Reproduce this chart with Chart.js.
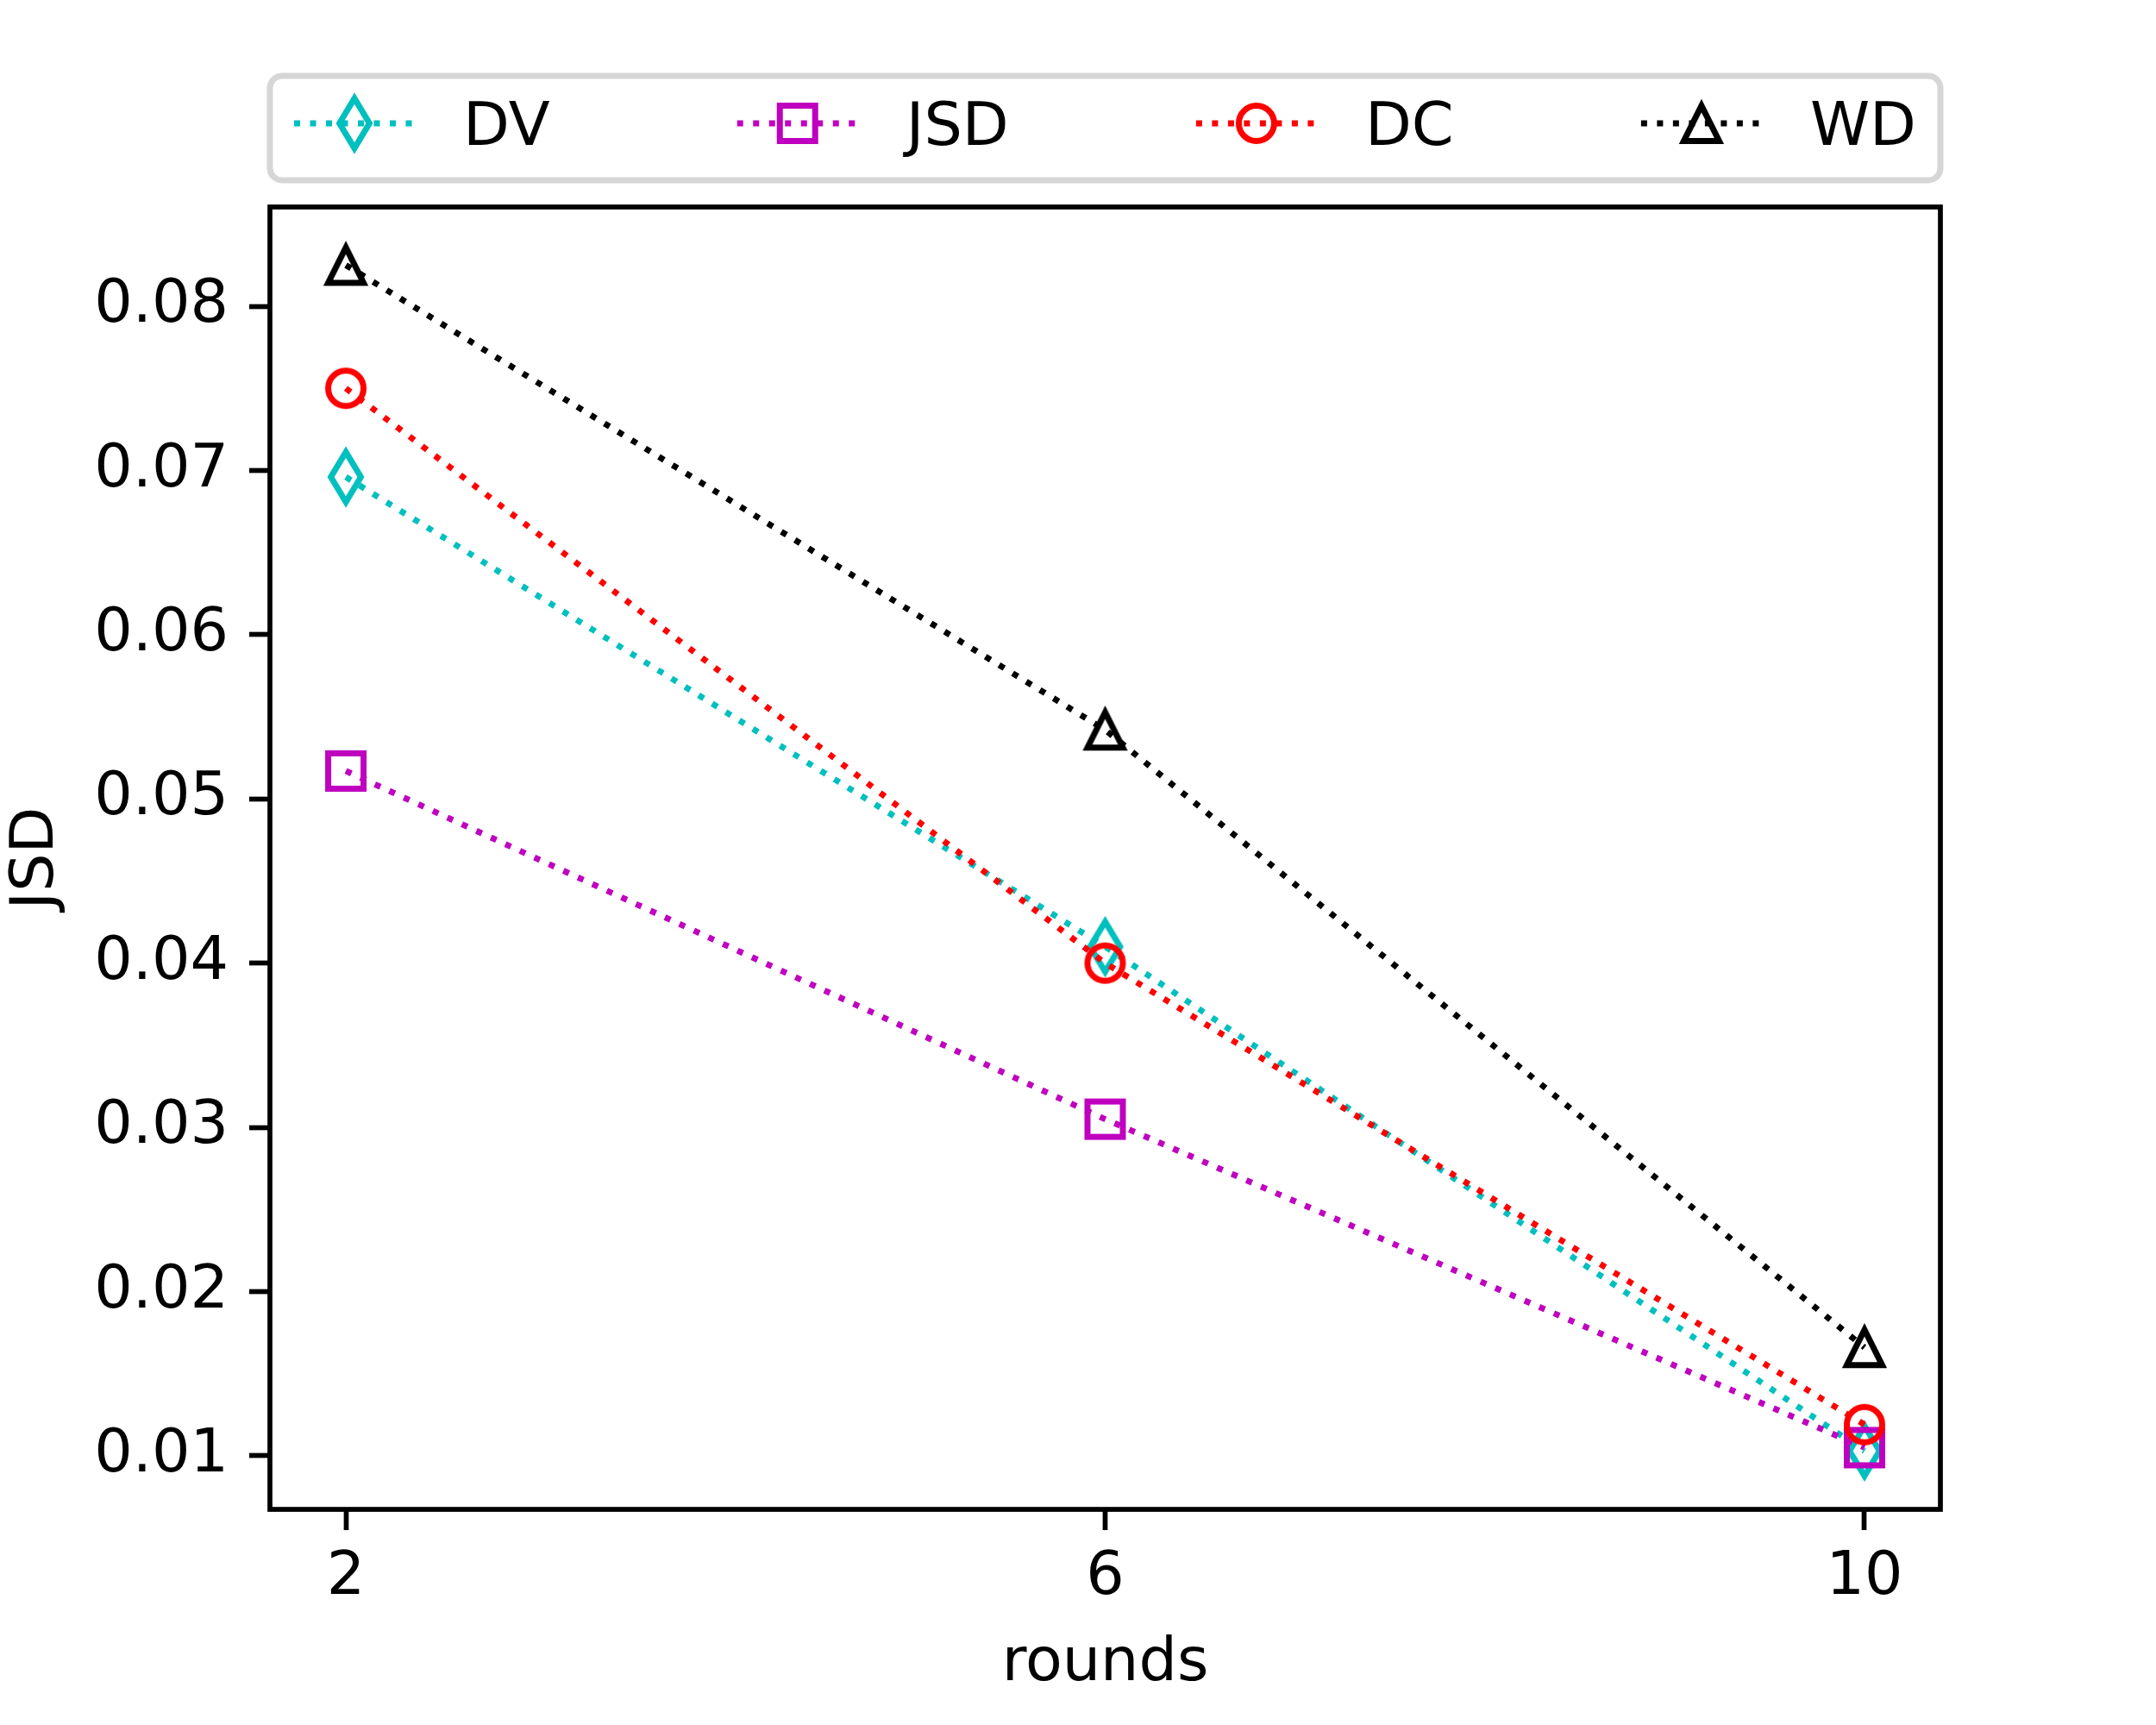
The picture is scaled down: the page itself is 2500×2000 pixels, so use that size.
<!DOCTYPE html>
<html lang="en">
<head>
  <meta charset="UTF-8" />
  <title>JSD vs rounds</title>
  <script src="https://cdn.jsdelivr.net/npm/chart.js"></script>
  <style>
    body { margin: 0; background: #ffffff; }
    #wrap { width: 2500px; height: 2000px; }
  </style>
</head>
<body>
  <div id="wrap"><canvas id="jsdChart" width="2500" height="2000"></canvas></div>

  <script>
    // values
    const rounds = [2, 6, 10];
    const dvValues = [0.0696, 0.0410, 0.0103];
    const jsdValues = [0.0517, 0.0305, 0.0105];
    const dcValues = [0.0750, 0.0400, 0.0119];
    const wdValues = [0.0825, 0.0542, 0.0166];

    const xTicks = [2, 6, 10];
    const yTicks = [0.01, 0.02, 0.03, 0.04, 0.05, 0.06, 0.07, 0.08];
    const xLimits = [1.6, 10.4];
    const yLimits = [0.00674, 0.08604];

    const FONT = 'DejaVu Sans';
    const MS = 41;        // marker size in px
    const LW = 7;         // line / marker edge width
    const DOTS = [7, 11.5];

    function markerCanvas(kind, color) {
      const c = document.createElement('canvas');
      c.width = 90; c.height = 90;
      const g = c.getContext('2d');
      g.translate(45, 45);
      g.strokeStyle = color;
      g.lineWidth = LW;
      g.lineJoin = 'miter';
      g.beginPath();
      const h = MS / 2;
      if (kind === 'circle') {
        g.arc(0, 0, h, 0, Math.PI * 2);
      } else if (kind === 'square') {
        g.rect(-h, -h, MS, MS);
      } else if (kind === 'triangle') {
        g.moveTo(0, -h); g.lineTo(-h, h); g.lineTo(h, h); g.closePath();
      } else if (kind === 'thinDiamond') {
        const dy = MS * Math.SQRT1_2, dx = 0.6 * dy;
        g.moveTo(0, -dy); g.lineTo(dx, 0); g.lineTo(0, dy); g.lineTo(-dx, 0); g.closePath();
      }
      g.stroke();
      return c;
    }

    function series(label, values, color, marker, order) {
      return {
        label: label,
        data: rounds.map((r, i) => ({ x: r, y: values[i] })),
        borderColor: color,
        borderWidth: LW,
        borderDash: DOTS,
        borderCapStyle: 'butt',
        fill: false,
        tension: 0,
        pointStyle: markerCanvas(marker, color),
        pointRadius: 20,
        order: order
      };
    }

    // matplotlib style legend, mode "expand", 4 columns above the axes
    const topLegend = {
      id: 'topLegend',
      afterDraw(chart) {
        const ctx = chart.ctx;
        const area = chart.chartArea;
        const fs = 70;
        const boxTop = 88, boxBottom = 209;
        const handleLen = 2 * fs, textPad = 0.8 * fs, borderPad = 0.4 * fs;
        ctx.save();
        ctx.lineWidth = 7;
        ctx.strokeStyle = '#d6d6d6';
        ctx.fillStyle = '#ffffff';
        ctx.beginPath();
        ctx.roundRect(area.left, boxTop, area.right - area.left, boxBottom - boxTop, 14);
        ctx.fill();
        ctx.stroke();

        ctx.font = fs + 'px "' + FONT + '"';
        const sets = chart.data.datasets;
        const widths = sets.map(d => handleLen + textPad + ctx.measureText(d.label).width);
        const x0 = area.left + borderPad, x1 = area.right - borderPad;
        const gap = (x1 - x0 - widths.reduce((a, b) => a + b, 0)) / (sets.length - 1);
        const lineY = 143, baseY = 168;
        let x = x0;
        sets.forEach((d, i) => {
          ctx.strokeStyle = d.borderColor;
          ctx.lineWidth = LW;
          ctx.lineCap = 'butt';
          ctx.setLineDash(DOTS);
          ctx.beginPath();
          ctx.moveTo(x, lineY);
          ctx.lineTo(x + handleLen, lineY);
          ctx.stroke();
          ctx.setLineDash([]);
          const img = d.pointStyle;
          ctx.drawImage(img, x + handleLen / 2 - img.width / 2, lineY - img.height / 2);
          ctx.fillStyle = '#000000';
          ctx.textBaseline = 'alphabetic';
          ctx.textAlign = 'left';
          ctx.fillText(d.label, x + handleLen + textPad, baseY);
          x += widths[i] + gap;
        });
        ctx.restore();
      }
    };

    const frame = {
      id: 'frame',
      afterDatasetsDraw(chart) {
        const { ctx, chartArea: a } = chart;
        ctx.save();
        ctx.lineWidth = 5.7;
        ctx.strokeStyle = '#000000';
        ctx.strokeRect(a.left, a.top, a.right - a.left, a.bottom - a.top);
        ctx.restore();
      }
    };

    Chart.defaults.font.family = FONT;
    Chart.defaults.color = '#000000';

    new Chart(document.getElementById('jsdChart'), {
      type: 'line',
      data: {
        datasets: [
          series('DV', dvValues, '#00bfbf', 'thinDiamond', 4),
          series('JSD', jsdValues, '#bf00bf', 'square', 3),
          series('DC', dcValues, '#ff0000', 'circle', 2),
          series('WD', wdValues, '#000000', 'triangle', 1)
        ]
      },
      options: {
        responsive: false,
        devicePixelRatio: 1,
        animation: false,
        layout: { padding: { top: 240, right: 250, left: 0, bottom: 0 } },
        plugins: {
          legend: { display: false },
          tooltip: { enabled: false }
        },
        scales: {
          x: {
            type: 'linear',
            min: xLimits[0],
            max: xLimits[1],
            afterBuildTicks: s => { s.ticks = xTicks.map(v => ({ value: v })); },
            afterFit: s => { s.height = 250; },
            border: { display: false },
            grid: { drawOnChartArea: false, drawTicks: true, tickLength: 24, tickWidth: 5.7, tickColor: '#000000' },
            ticks: { font: { size: 70, lineHeight: 1 }, padding: 21, maxRotation: 0, callback: v => String(v) },
            title: { display: true, text: 'rounds', font: { size: 70, lineHeight: 1 }, padding: { bottom: 35, top: 0 } }
          },
          y: {
            type: 'linear',
            min: yLimits[0],
            max: yLimits[1],
            afterBuildTicks: s => { s.ticks = yTicks.map(v => ({ value: v })); },
            afterFit: s => { s.width = 313; },
            border: { display: false },
            grid: { drawOnChartArea: false, drawTicks: true, tickLength: 24, tickWidth: 5.7, tickColor: '#000000' },
            ticks: { font: { size: 70, lineHeight: 1 }, padding: 24, callback: v => v.toFixed(2) },
            title: { display: true, text: 'JSD', font: { size: 70, lineHeight: 1 }, padding: { top: 8, bottom: 0 } }
          }
        }
      },
      plugins: [topLegend, frame]
    });
  </script>
</body>
</html>
